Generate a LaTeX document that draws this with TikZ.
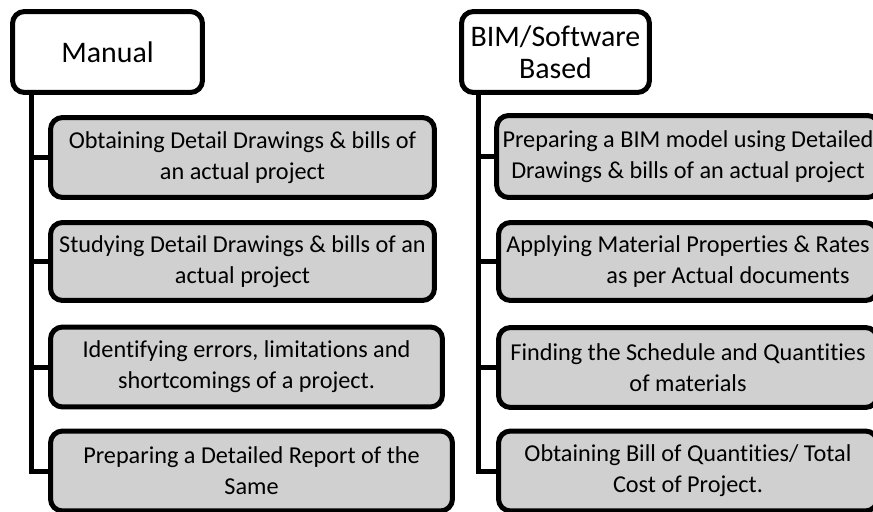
\documentclass[tikz,border=0pt]{standalone}
\usepackage{fontspec}
\setmainfont{Carlito}[Ligatures=NoCommon]
\usepackage{tikz}

\definecolor{taskgray}{RGB}{208,208,208}

\begin{document}
\begin{tikzpicture}[x=0.02cm, y=-0.02cm]
    \tikzstyle{head box}=[
        draw = black,
        line width = 0.1cm,
        fill = white,
        rounded corners = 0.24cm,
        minimum height = 1.62cm,
        align = center,
        font = \fontsize{17}{18}\selectfont
    ]
    \tikzstyle{task box}=[
        draw = black,
        line width = 0.1cm,
        fill = taskgray,
        rounded corners = 0.24cm,
        minimum height = 1.6cm,
        align = center,
        font = \fontsize{13.8}{17.5}\selectfont
    ]
    \tikzstyle{link}=[
        draw = black,
        line width = 0.1cm
    ]

    \clip (0,0) rectangle (873,511);

    \node[head box, minimum width=3.8cm]  (manual) at (107.5,52)  {Manual};
    \node[head box, minimum width=3.76cm] (bim)    at (555.5,52)  {BIM/Software\\Based};

    \node[task box, minimum width=7.68cm] (m1) at (242.5,157.5) {Obtaining Detail Drawings \& bills of\\an actual project};
    \node[task box, minimum width=7.68cm, minimum height=1.56cm] (m2) at (242.5,261.5) {Studying Detail Drawings \& bills of an\\actual project};
    \node[task box, minimum width=7.84cm] (m3) at (246.5,367)   {Identifying errors, limitations and\\shortcomings of a project.};
    \node[task box, minimum width=8.04cm] (m4) at (251.5,471)   {Preparing a Detailed Report of the\\Same};

    \node[task box, minimum width=7.58cm, minimum height=1.64cm] (b1) at (688,156.5) {Preparing a BIM model using Detailed\\Drawings \& bills of an actual project};
    \node[task box, minimum width=7.58cm, minimum height=1.56cm] (b2) at (688,261.5) {Applying Material Properties \& Rates\\\hspace*{1.6cm}as per Actual documents};
    \node[task box, minimum width=7.58cm] (b3) at (688,367.5) {Finding the Schedule and Quantities\\of materials};
    \node[task box, minimum width=7.58cm] (b4) at (688,471)   {Obtaining Bill of Quantities/ Total\\Cost of Project.};

    \draw[link] ([xshift=0.42cm]manual.south west) |- (m1.west);
    \draw[link] ([xshift=0.42cm]manual.south west) |- (m2.west);
    \draw[link] ([xshift=0.42cm]manual.south west) |- (m3.west);
    \draw[link] ([xshift=0.42cm]manual.south west) |- (m4.west);

    \draw[link] ([xshift=0.38cm]bim.south west) |- (b1.west);
    \draw[link] ([xshift=0.38cm]bim.south west) |- (b2.west);
    \draw[link] ([xshift=0.38cm]bim.south west) |- (b3.west);
    \draw[link] ([xshift=0.38cm]bim.south west) |- (b4.west);

\end{tikzpicture}
\end{document}
